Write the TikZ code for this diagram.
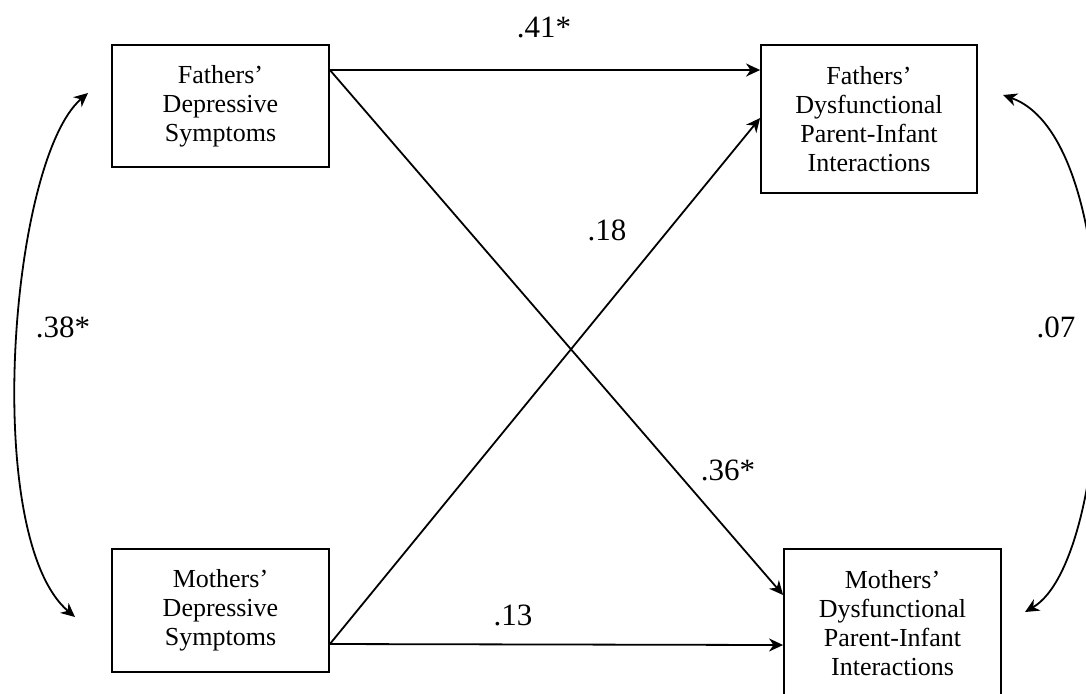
\documentclass[tikz,border=0pt]{standalone}
\usepackage{fontspec}
\setmainfont{Liberation Serif}
\usetikzlibrary{arrows.meta}
\tikzset{
  box/.style={draw, line width=0.9pt, align=center, inner sep=0pt,
    font=\fontsize{13}{14.5}\selectfont},
  path/.style={line width=0.9pt, -{Stealth[length=7pt,width=6.5pt,inset=2.2pt]}},
  cov/.style={line width=0.9pt, {Stealth[length=7pt,width=6.5pt,inset=2.2pt]}-{Stealth[length=7pt,width=6.5pt,inset=2.2pt]}},
  lab/.style={anchor=base, inner sep=0pt, font=\fontsize{15.5}{18}\selectfont}
}
\begin{document}
\begin{tikzpicture}[x=0.5pt,y=-0.5pt]
\useasboundingbox (0,0) rectangle (1086,693);
\clip (0,0) rectangle (1086,693);
\fill[white] (0,0) rectangle (1086,693);
\node[box, minimum width=108.5pt, minimum height=61pt] (FD) at (220.5,106) {Fathers'\\Depressive\\Symptoms};
\node[box, minimum width=108pt, minimum height=74pt] (FI) at (869,119) {Fathers'\\Dysfunctional\\Parent-Infant\\Interactions};
\node[box, minimum width=108.5pt, minimum height=61.5pt] (MD) at (220.5,610.5) {Mothers'\\Depressive\\Symptoms};
\node[box, minimum width=108.5pt, minimum height=74.5pt] (MI) at (892.5,623.5) {Mothers'\\Dysfunctional\\Parent-Infant\\Interactions};
% paths
\draw[path] ([yshift=18pt]FD.east) -- ([yshift=24.5pt]FI.west);
\draw[path] ([yshift=18pt]FD.east) -- ([yshift=14.25pt]MI.west);
\draw[path] ([yshift=-16.75pt]MD.east) -- ([yshift=0.5pt]FI.west);
\draw[path] ([yshift=-16.75pt]MD.east) -- ([yshift=-10.75pt]MI.west);
% covariances
\coordinate (L1) at (88,93);
\coordinate (L2) at (75,617);
\coordinate (R1) at (1003,95);
\coordinate (R2) at (1025,612);
\draw[cov] (L1) .. controls (10,160) and (-19,537) .. (L2);
\draw[cov] (R1) .. controls (1130,140) and (1117,558) .. (R2);
% labels
\node[lab] (l41) at (544,37) {.41*};
\node[lab] (l18) at (607,240) {.18};
\node[lab] (l36) at (728,480) {.36*};
\node[lab] (l13) at (513,625) {.13};
\node[lab] (l38) at (63,337) {.38*};
\node[lab] (l07) at (1056,337) {.07};
\end{tikzpicture}
\end{document}
